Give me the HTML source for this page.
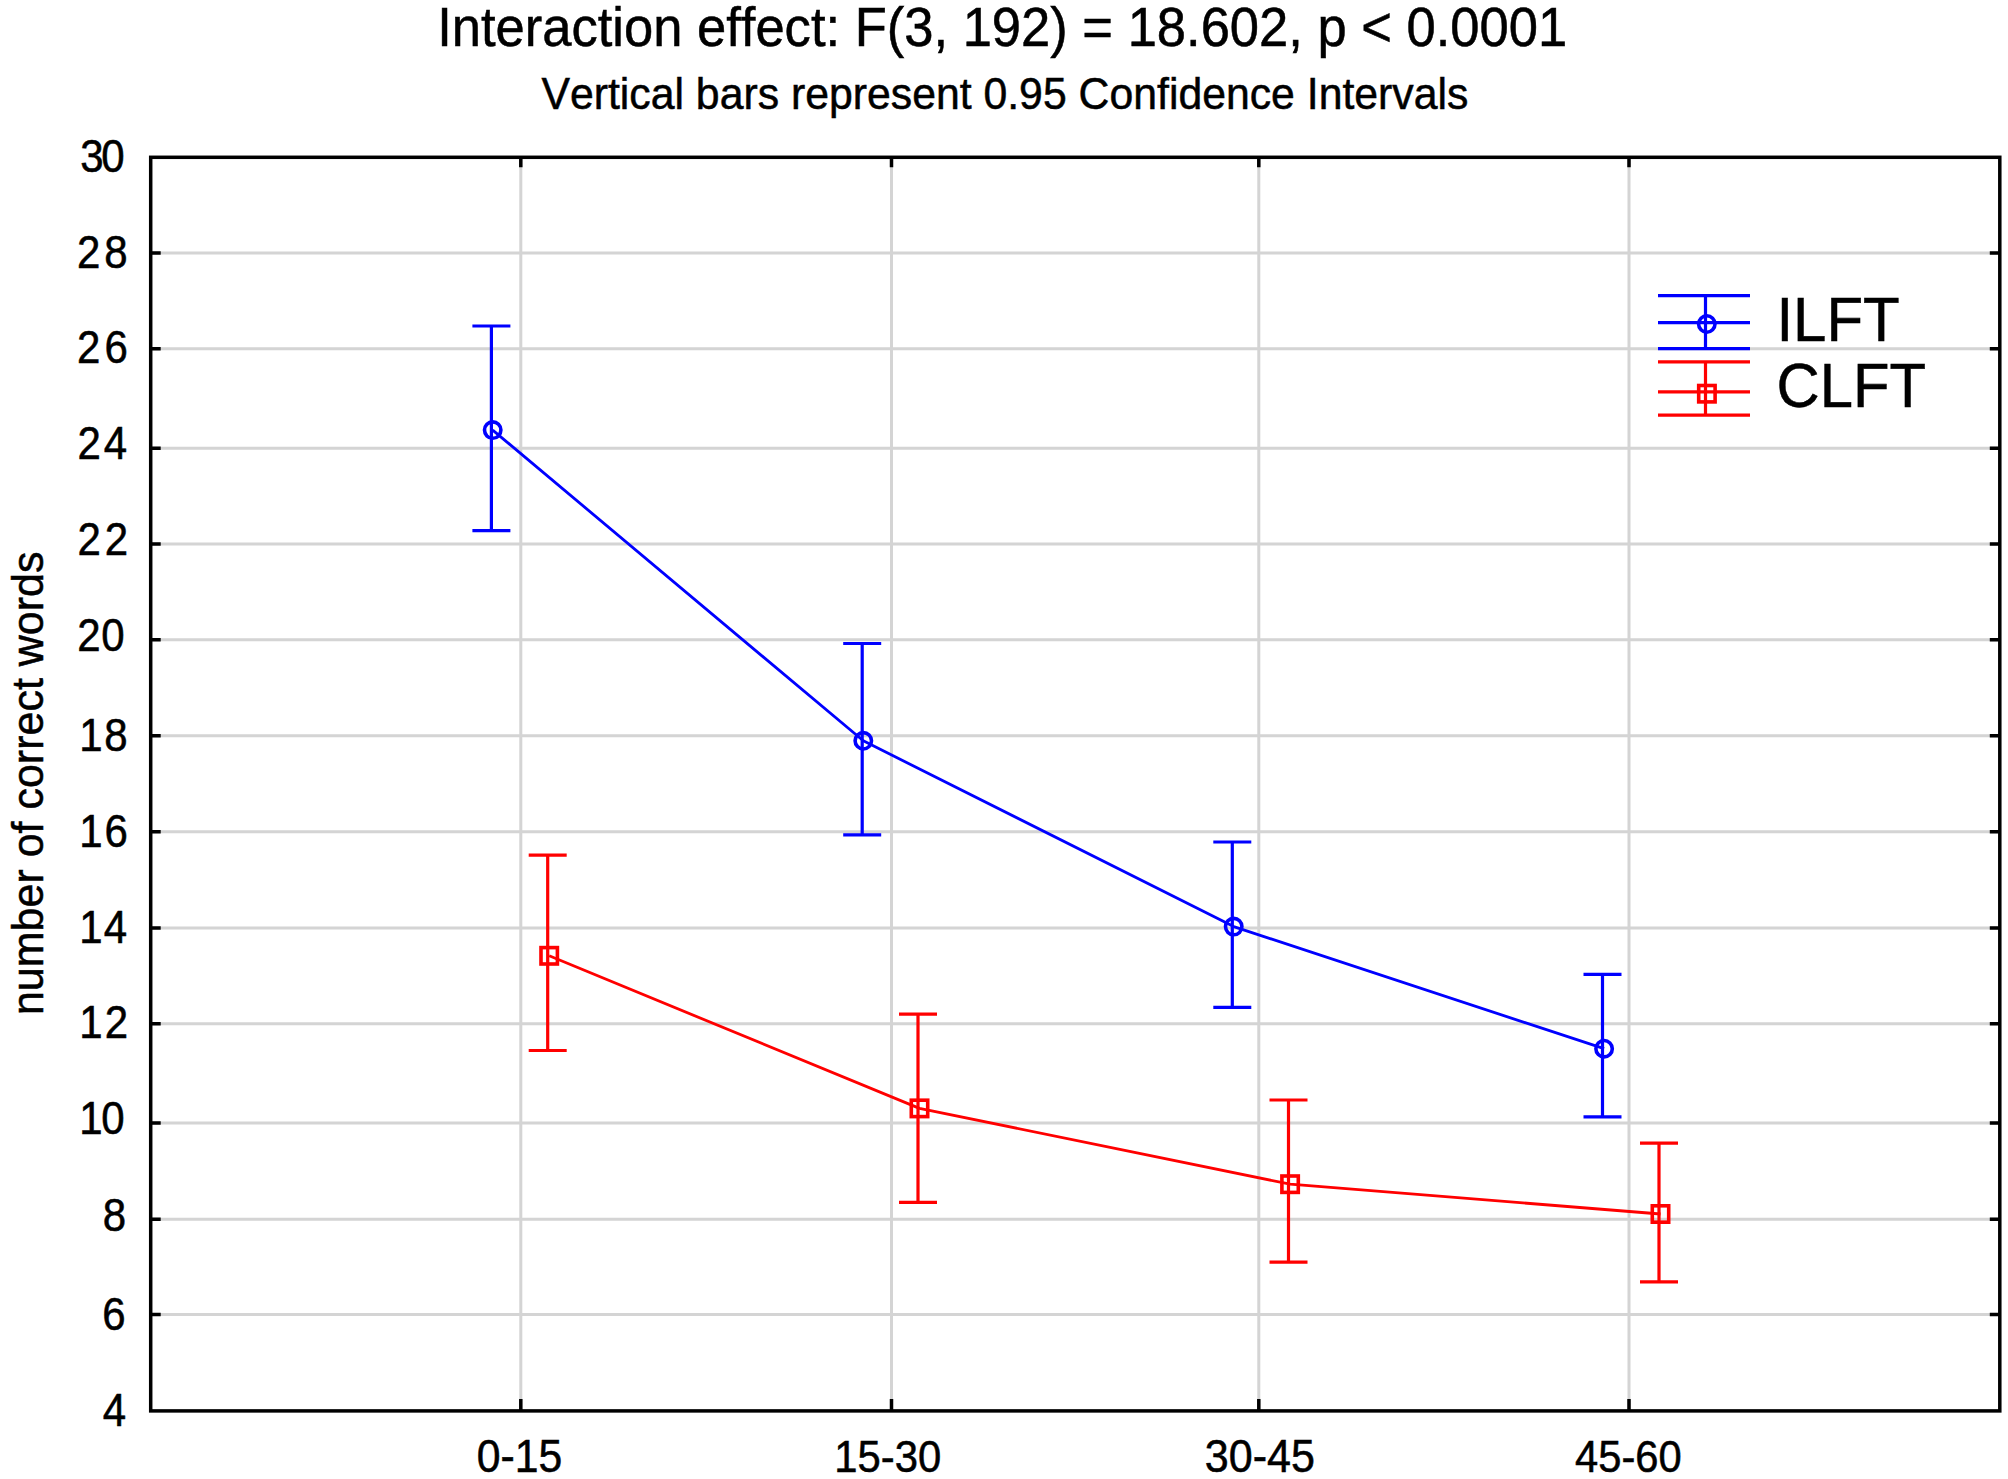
<!DOCTYPE html><html><head><meta charset="utf-8"><title>Interaction effect</title><style>
html,body{margin:0;padding:0;background:#fff;width:2008px;height:1479px;overflow:hidden}
svg{display:block}text{font-family:"Liberation Sans",Arial,sans-serif;fill:#000;stroke:#000;stroke-width:0.5px;font-kerning:none;font-variant-ligatures:none}
</style></head><body>
<svg width="2008" height="1479" viewBox="0 0 2008 1479">
<rect width="2008" height="1479" fill="#fff"/>
<path d="M150.7 1314.6H1999.8M150.7 1219.3H1999.8M150.7 1123.0H1999.8M150.7 1023.8H1999.8M150.7 928.0H1999.8M150.7 831.8H1999.8M150.7 735.8H1999.8M150.7 639.7H1999.8M150.7 544.1H1999.8M150.7 448.2H1999.8M150.7 348.8H1999.8M150.7 253.0H1999.8M520.8 157.3V1410.9M891.5 157.3V1410.9M1258.8 157.3V1410.9M1629.0 157.3V1410.9" stroke="#d4d4d4" stroke-width="3.0" fill="none"/>
<path d="M150.7 1314.6h10M1999.8 1314.6h-10M150.7 1219.3h10M1999.8 1219.3h-10M150.7 1123.0h10M1999.8 1123.0h-10M150.7 1023.8h10M1999.8 1023.8h-10M150.7 928.0h10M1999.8 928.0h-10M150.7 831.8h10M1999.8 831.8h-10M150.7 735.8h10M1999.8 735.8h-10M150.7 639.7h10M1999.8 639.7h-10M150.7 544.1h10M1999.8 544.1h-10M150.7 448.2h10M1999.8 448.2h-10M150.7 348.8h10M1999.8 348.8h-10M150.7 253.0h10M1999.8 253.0h-10M520.8 1410.9v-12M520.8 157.3v10M891.5 1410.9v-12M891.5 157.3v10M1258.8 1410.9v-12M1258.8 157.3v10M1629.0 1410.9v-12M1629.0 157.3v10" stroke="#000" stroke-width="3.5" fill="none"/>
<rect x="150.7" y="157.3" width="1849.1" height="1253.6" fill="none" stroke="#000" stroke-width="3.5"/>
<path d="M492.7 430.1 L863.3 740.8 L1233.7 926.6 L1604.1 1048.7" stroke="#0000ff" stroke-width="2.8" fill="none" stroke-linejoin="round"/>
<path d="M491.4 326.0V530.7M472.4 326.0H510.4M472.4 530.7H510.4M862.2 643.5V834.9M843.2 643.5H881.2M843.2 834.9H881.2M1232.3 842.0V1007.4M1213.3 842.0H1251.3M1213.3 1007.4H1251.3M1602.5 974.4V1116.8M1583.5 974.4H1621.5M1583.5 1116.8H1621.5" stroke="#0000ff" stroke-width="3.2" fill="none"/>
<circle cx="492.7" cy="430.1" r="8.2" stroke="#0000ff" stroke-width="3.6" fill="none"/>
<circle cx="863.3" cy="740.8" r="8.2" stroke="#0000ff" stroke-width="3.6" fill="none"/>
<circle cx="1233.7" cy="926.6" r="8.2" stroke="#0000ff" stroke-width="3.6" fill="none"/>
<circle cx="1604.1" cy="1048.7" r="8.2" stroke="#0000ff" stroke-width="3.6" fill="none"/>
<path d="M549.2 955.8 L919.5 1108.4 L1290.1 1184.2 L1660.5 1214.0" stroke="#ff0000" stroke-width="2.8" fill="none" stroke-linejoin="round"/>
<path d="M547.7 855.2V1050.5M528.7 855.2H566.7M528.7 1050.5H566.7M918.0 1014.1V1202.3M899.0 1014.1H937.0M899.0 1202.3H937.0M1288.5 1100.0V1262.2M1269.5 1100.0H1307.5M1269.5 1262.2H1307.5M1659.0 1143.1V1281.8M1640.0 1143.1H1678.0M1640.0 1281.8H1678.0" stroke="#ff0000" stroke-width="3.2" fill="none"/>
<rect x="541.0" y="947.6" width="16.4" height="16.4" stroke="#ff0000" stroke-width="3.6" fill="none"/>
<rect x="911.3" y="1100.2" width="16.4" height="16.4" stroke="#ff0000" stroke-width="3.6" fill="none"/>
<rect x="1281.9" y="1176.0" width="16.4" height="16.4" stroke="#ff0000" stroke-width="3.6" fill="none"/>
<rect x="1652.3" y="1205.8" width="16.4" height="16.4" stroke="#ff0000" stroke-width="3.6" fill="none"/>
<path d="M1658 295.7H1750M1658 322.6H1750M1658 348.7H1750M1705.5 295.7V348.7" stroke="#0000ff" stroke-width="3.2" fill="none"/>
<circle cx="1706.8" cy="324.0" r="8.2" stroke="#0000ff" stroke-width="3.6" fill="none"/>
<path d="M1658 361.9H1750M1658 391.8H1750M1658 415.2H1750M1705.5 361.9V415.2" stroke="#ff0000" stroke-width="3.2" fill="none"/>
<rect x="1698.7" y="385.5" width="16.4" height="16.4" stroke="#ff0000" stroke-width="3.6" fill="none"/>
<text transform="translate(1776.47 340.80) scale(1 1.040)" font-size="59.94">ILFT</text>
<text transform="translate(1776.57 406.80) scale(1 1.040)" font-size="59.76">CLFT</text>
<text transform="translate(0 1425.52) scale(1 1.105)" x="102.85" font-size="42.00">4</text>
<text transform="translate(0 1329.72) scale(1 1.105)" x="102.38" font-size="42.00">6</text>
<text transform="translate(0 1230.62) scale(1 1.105)" x="102.77" font-size="42.00">8</text>
<text transform="translate(0 1134.32) scale(1 1.105)" x="79.20 101.28" font-size="42.00">10</text>
<text transform="translate(0 1038.32) scale(1 1.105)" x="79.20 104.65" font-size="42.00">12</text>
<text transform="translate(0 942.62) scale(1 1.105)" x="79.20 103.77" font-size="42.00">14</text>
<text transform="translate(0 846.52) scale(1 1.105)" x="79.20 104.39" font-size="42.00">16</text>
<text transform="translate(0 750.52) scale(1 1.105)" x="79.20 104.37" font-size="42.00">18</text>
<text transform="translate(0 651.22) scale(1 1.105)" x="77.19 101.28" font-size="42.00">20</text>
<text transform="translate(0 555.42) scale(1 1.105)" x="77.39 104.65" font-size="42.00">22</text>
<text transform="translate(0 459.22) scale(1 1.105)" x="77.39 103.77" font-size="42.00">24</text>
<text transform="translate(0 363.42) scale(1 1.105)" x="77.09 104.39" font-size="42.00">26</text>
<text transform="translate(0 268.02) scale(1 1.105)" x="77.09 104.37" font-size="42.00">28</text>
<text transform="translate(0 171.82) scale(1 1.105)" x="80.30 101.28" font-size="42.00">30</text>
<text transform="translate(476.63 1471.90) scale(1 1.065)" font-size="42.75">0-15</text>
<text transform="translate(834.31 1471.90) scale(1 1.065)" font-size="41.84">15-30</text>
<text transform="translate(1204.86 1471.90) scale(1 1.065)" font-size="43.07">30-45</text>
<text transform="translate(1575.04 1471.90) scale(1 1.065)" font-size="41.75">45-60</text>
<text transform="translate(42.7 1015.06) rotate(-90) scale(1 1.02)" font-size="43.00">number of correct words</text>
<text transform="translate(437.15 46.20) scale(1 1.060)" font-size="52.54">Interaction effect: F(3, 192) = 18.602, p &lt; 0.0001</text>
<text transform="translate(541.41 108.80) scale(1 1.030)" font-size="42.77">Vertical bars represent 0.95 Confidence Intervals</text>
</svg></body></html>
